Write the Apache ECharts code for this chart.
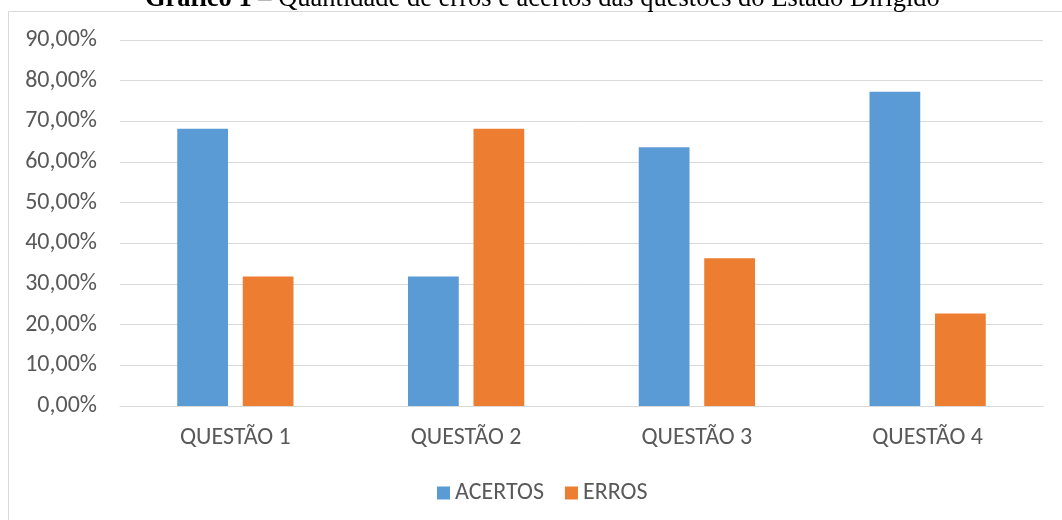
<!DOCTYPE html>
<html>
<head>
<meta charset="utf-8">
<script src="https://cdn.jsdelivr.net/npm/echarts@6/dist/echarts.min.js"></script>
<style>
  html, body { margin: 0; padding: 0; background: #fff; }
  #chart { width: 1062px; height: 520px; }
</style>
</head>
<body>
<div id="chart"></div>
<script>
var categories = ['QUESTÃO 1', 'QUESTÃO 2', 'QUESTÃO 3', 'QUESTÃO 4'];
var acertos = [68.18, 31.82, 63.64, 77.27];
var erros = [31.82, 68.18, 36.36, 22.73];

var font = 'Carlito, Lato, "Liberation Sans", sans-serif';

var chart = echarts.init(document.getElementById('chart'));
var option = {
  animation: false,
  color: ['#5b9bd5', '#ed7d31'],
  title: {
    text: '{b|Gráfico 1} – Quantidade de erros e acertos das questões do Estado Dirigido',
    left: 140,
    top: -19,
    textStyle: {
      fontFamily: '"Liberation Serif", serif',
      fontWeight: 'normal',
      fontSize: 26.5,
      color: '#000',
      rich: {
        b: { fontFamily: '"Liberation Serif", serif', fontWeight: 'bold', fontSize: 26.5, color: '#000' }
      }
    }
  },
  graphic: [{
    type: 'rect',
    shape: { x: 8.5, y: 11.5, width: 1060, height: 520 },
    style: { fill: '#fff', stroke: '#d9d9d9', lineWidth: 1 },
    z: -1
  }],
  grid: { left: 120, right: 19, top: 40, bottom: 114 },
  legend: {
    top: 476,
    left: 432,
    itemWidth: 13,
    itemHeight: 13,
    itemGap: 21,
    icon: 'rect',
    textStyle: { fontFamily: font, fontSize: 24, color: '#595959' },
    data: ['ACERTOS', 'ERROS']
  },
  xAxis: {
    type: 'category',
    data: categories,
    axisTick: { show: false },
    axisLine: { lineStyle: { color: '#d9d9d9', width: 1 } },
    axisLabel: { fontFamily: font, fontSize: 24, color: '#595959', margin: 20 }
  },
  yAxis: {
    type: 'value',
    min: 0,
    max: 90,
    interval: 10,
    axisLine: { show: false },
    axisTick: { show: false },
    splitLine: { lineStyle: { color: '#d9d9d9', width: 1 } },
    axisLabel: {
      fontFamily: font, fontSize: 24, color: '#595959', margin: 23,
      formatter: function (v) { return v.toFixed(2).replace('.', ',') + '%'; }
    }
  },
  series: [
    { name: 'ACERTOS', type: 'bar', data: acertos, barWidth: '22%', barGap: '29%' },
    { name: 'ERROS', type: 'bar', data: erros, barWidth: '22%', barGap: '29%' }
  ]
};
chart.setOption(option);
</script>
</body>
</html>
